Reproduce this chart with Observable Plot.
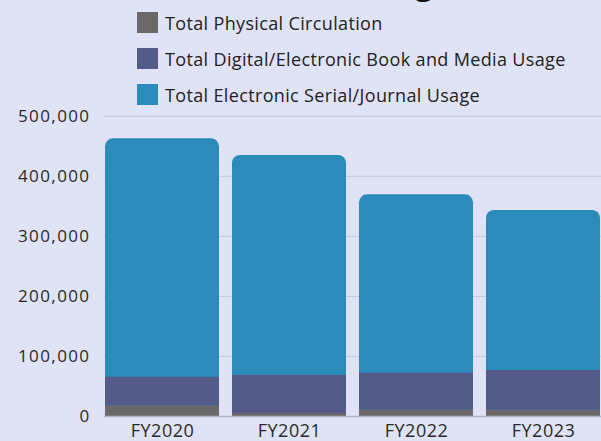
<!DOCTYPE html>
<html>
<head>
<meta charset="utf-8">
<script src="https://cdn.jsdelivr.net/npm/d3@7"></script>
<script src="https://cdn.jsdelivr.net/npm/@observablehq/plot@0.6"></script>
<style>
  html, body { margin: 0; padding: 0; }
  body { width: 601px; height: 441px; overflow: hidden; position: relative; background: #dfe3f5; font-family: "Open Sans", sans-serif; }
  #title { position: absolute; right: 149px; top: -34px; font-size: 32px; line-height: 32px; font-weight: 700; color: #111; white-space: nowrap; }
  #legend { position: absolute; left: 137px; top: 12px; }
  .row { display: flex; align-items: center; height: 21px; margin-bottom: 15px; font-size: 18px; letter-spacing: 0.35px; color: #222; }
  .sw { width: 21px; height: 21px; margin-right: 7px; flex: none; }
  #chart { position: absolute; left: 0; top: 100px; }
  g[aria-label="y-axis tick label"] text { letter-spacing: 1.4px; }
  g[aria-label="x-axis tick label"] text { letter-spacing: 0.5px; }
</style>
</head>
<body>
<div id="title">Total Resource Usage</div>
<div id="legend"></div>
<div id="chart"></div>
<script>
const years = ["FY2020", "FY2021", "FY2022", "FY2023"];
const physical = [17800, 5000, 11100, 10500];
const digital = [47600, 63300, 61000, 66100];
const serial = [397000, 366300, 297000, 266400];
const seriesNames = ["Total Physical Circulation", "Total Digital/Electronic Book and Media Usage", "Total Electronic Serial/Journal Usage"];
const seriesColors = ["#6b6869", "#545b88", "#2c8bba"];
const yTicks = [0, 100000, 200000, 300000, 400000, 500000];

const legend = document.getElementById("legend");
seriesNames.forEach((name, i) => {
  const row = document.createElement("div");
  row.className = "row";
  const sw = document.createElement("div");
  sw.className = "sw";
  sw.style.background = seriesColors[i];
  const t = document.createElement("span");
  t.textContent = name;
  row.appendChild(sw); row.appendChild(t);
  legend.appendChild(row);
});

// total bars (rounded, drawn first), then lower segments on top
const totals = years.map((y, i) => ({year: y, y1: 0, y2: physical[i] + digital[i] + serial[i], series: seriesNames[2]}));
const lower = [];
years.forEach((y, i) => {
  lower.push({year: y, y1: 0, y2: physical[i], series: seriesNames[0]});
  lower.push({year: y, y1: physical[i], y2: physical[i] + digital[i], series: seriesNames[1]});
});

const chart = Plot.plot({
  width: 601,
  height: 341,
  marginLeft: 104,
  marginRight: 0,
  marginTop: 15.7,
  marginBottom: 25,
  style: { background: "transparent", fontFamily: "Open Sans, sans-serif", fontSize: "17px", color: "#2a2a2a", overflow: "visible" },
  x: { domain: years, paddingInner: 0.1, paddingOuter: 0, label: null },
  y: { domain: [0, 500000], label: null },
  color: { domain: seriesNames, range: seriesColors },
  marks: [
    Plot.gridY(yTicks, { stroke: "#c4c8dd", strokeOpacity: 1, strokeWidth: 1 }),
    Plot.rectY(totals, { x: "year", y1: "y1", y2: "y2", fill: "series", rx: 8 }),
    Plot.rectY(lower, { x: "year", y1: "y1", y2: "y2", fill: "series" }),
    Plot.ruleY([0], { stroke: "#b3b6c8", strokeWidth: 1.5 }),
    Plot.axisY({ ticks: yTicks, tickFormat: d3.format(","), tickSize: 0, tickPadding: 14, fontSize: 17, label: null }),
    Plot.axisX({ tickSize: 0, tickPadding: 8, fontSize: 18, label: null })
  ]
});
document.getElementById("chart").appendChild(chart);
</script>
</body>
</html>
